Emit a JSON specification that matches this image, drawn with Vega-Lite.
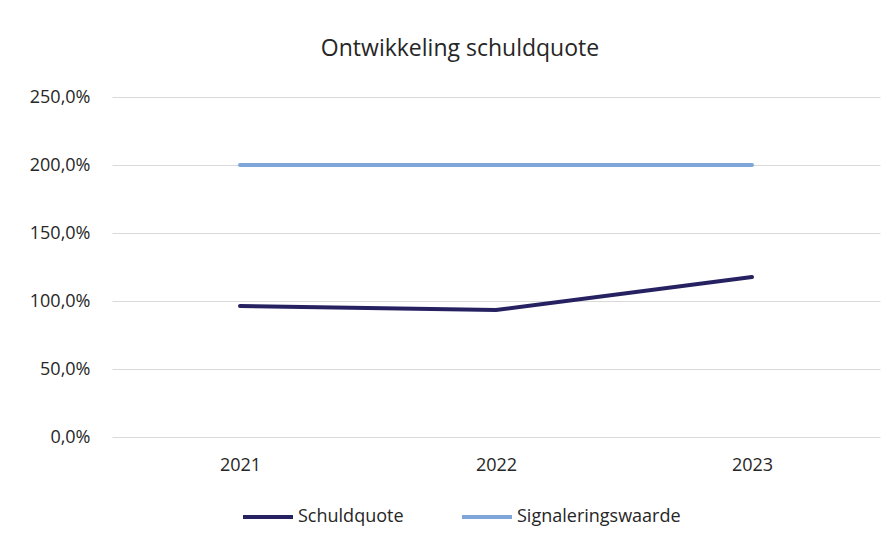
{
  "$schema": "https://vega.github.io/schema/vega-lite/v6.json",
  "width": 768,
  "height": 340,
  "autosize": {"type": "none"},
  "padding": {"left": 112, "top": 97, "right": 13, "bottom": 105},
  "background": "white",
  "title": {
    "text": "Ontwikkeling schuldquote",
    "anchor": "middle",
    "dx": -36,
    "offset": 27,
    "fontSize": 23,
    "font": "Open Sans",
    "fontWeight": "normal",
    "color": "#262626"
  },
  "data": {
    "values": [
      {"jaar": "2021", "reeks": "Schuldquote", "waarde": 0.963},
      {"jaar": "2022", "reeks": "Schuldquote", "waarde": 0.934},
      {"jaar": "2023", "reeks": "Schuldquote", "waarde": 1.176},
      {"jaar": "2021", "reeks": "Signaleringswaarde", "waarde": 2.0},
      {"jaar": "2022", "reeks": "Signaleringswaarde", "waarde": 2.0},
      {"jaar": "2023", "reeks": "Signaleringswaarde", "waarde": 2.0}
    ]
  },
  "mark": {"type": "line", "strokeWidth": 4, "strokeCap": "round"},
  "encoding": {
    "x": {
      "field": "jaar",
      "type": "ordinal",
      "scale": {"type": "point", "padding": 0.5},
      "axis": {
        "title": null,
        "labelAngle": 0,
        "ticks": false,
        "domain": false,
        "labelPadding": 19,
        "labelFontSize": 18,
        "labelFont": "Open Sans",
        "labelColor": "#262626"
      }
    },
    "y": {
      "field": "waarde",
      "type": "quantitative",
      "scale": {"domain": [0, 2.5], "nice": false},
      "axis": {
        "title": null,
        "values": [0, 0.5, 1, 1.5, 2, 2.5],
        "labelExpr": "replace(format(datum.value * 100, '.1f'), '.', ',') + '%'",
        "ticks": false,
        "domain": false,
        "labelPadding": 22,
        "labelFontSize": 18,
        "labelFont": "Open Sans",
        "labelColor": "#262626",
        "gridColor": "#d9d9d9",
        "gridWidth": 1.2
      }
    },
    "color": {
      "field": "reeks",
      "type": "nominal",
      "scale": {"domain": ["Schuldquote", "Signaleringswaarde"], "range": ["#262262", "#7ea6da"]},
      "legend": {
        "title": null,
        "orient": "none",
        "direction": "horizontal",
        "legendX": 129,
        "legendY": 393,
        "symbolType": "stroke",
        "symbolSize": 2500,
        "symbolStrokeWidth": 4,
        "labelOffset": 3,
        "labelLimit": 300,
        "columnPadding": 50,
        "labelFontSize": 18,
        "labelFont": "Open Sans",
        "labelColor": "#262626"
      }
    }
  },
  "config": {"view": {"stroke": null}}
}
